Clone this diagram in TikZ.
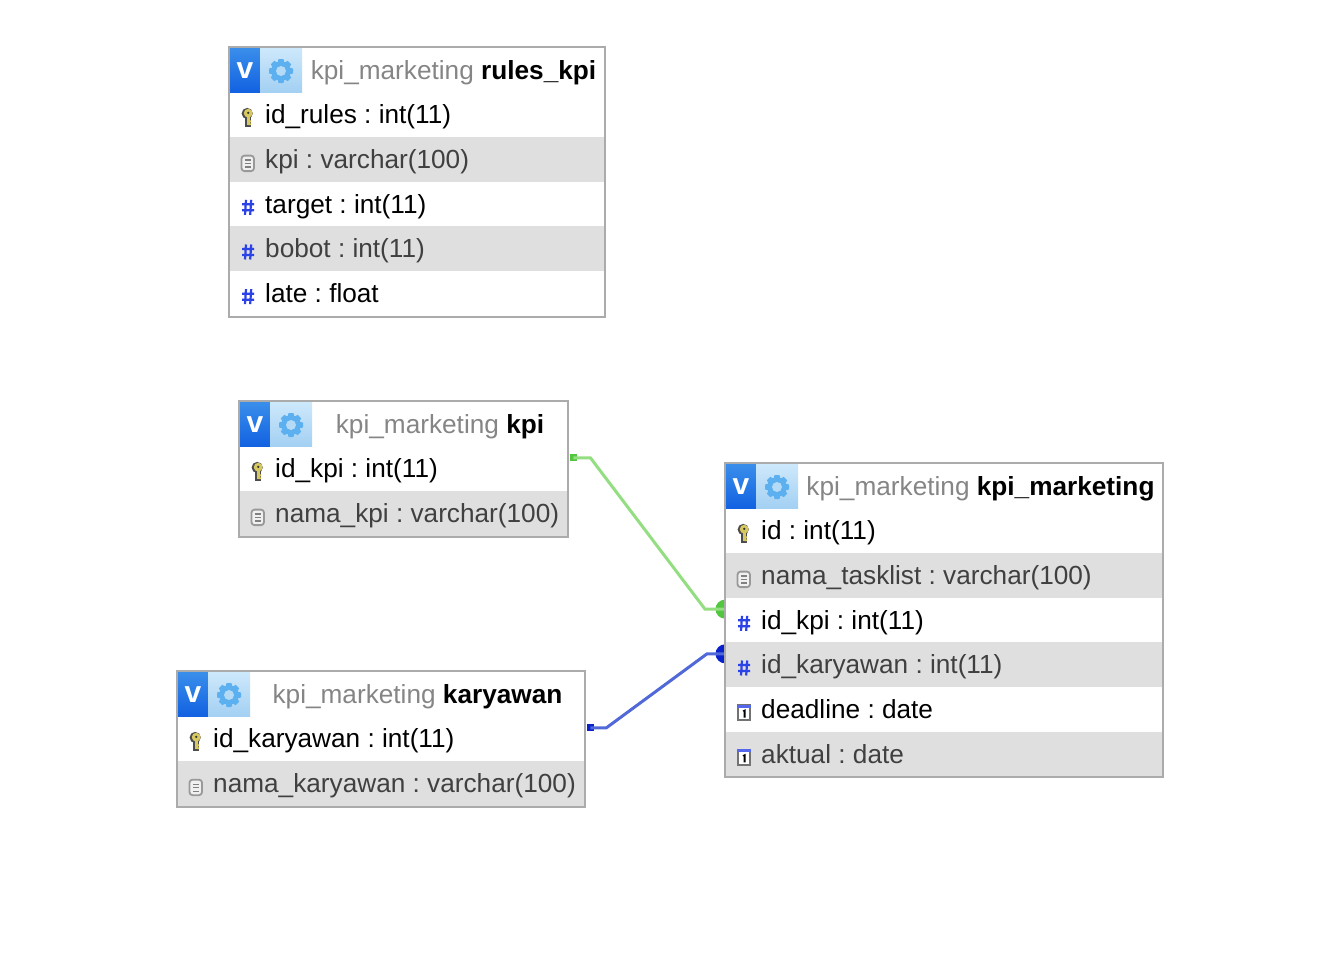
\documentclass[tikz,border=0pt]{standalone}
\usepackage{fontspec}
\setmainfont{Liberation Sans}
\usetikzlibrary{backgrounds}
\definecolor{rowgrey}{HTML}{DFDFDF}
\definecolor{framegrey}{HTML}{ABABAB}
\definecolor{schemagrey}{HTML}{858585}
\definecolor{hashblue}{HTML}{2A42E8}
\definecolor{linegreen}{HTML}{93DE80}
\definecolor{tipgreen}{HTML}{52C63E}
\definecolor{lineblue}{HTML}{5068D8}
\definecolor{tipblue}{HTML}{0A22CC}
\definecolor{gearblue}{HTML}{5CB0F0}
\definecolor{geartop}{HTML}{CDE8FB}
\definecolor{gearbot}{HTML}{A3D0F3}
\definecolor{vtop}{HTML}{3A8EEA}
\definecolor{vbot}{HTML}{1262E2}
\definecolor{keygold}{HTML}{D8C860}
\tikzset{
  rowcell/.style={rectangle, inner sep=0pt, minimum height=44.67pt, anchor=north west, fill=white},
  rowtext/.style={anchor=west, inner sep=0pt, text height=19pt, text depth=6pt, font=\fontsize{26.2}{30}\selectfont},
  headtext/.style={rowtext, anchor=center},
  tabframe/.style={draw=framegrey, line width=2pt},
  tipsq/.style={rectangle, inner sep=0pt, minimum size=7pt},
  tipdot/.style={circle, inner sep=0pt, minimum size=19pt},
  vtile/.style={rectangle, inner sep=0pt, anchor=north west, minimum width=30pt, minimum height=44pt, top color=vtop, bottom color=vbot},
  geartile/.style={rectangle, inner sep=0pt, anchor=north west, minimum width=42pt, minimum height=44pt, top color=geartop, bottom color=gearbot},
  dbkey/.pic={
    \fill[black!70] (-.8,-5) circle (5.6);
    \fill[black!70] (-2.8,-2) rectangle (2.6,9);
    \fill[keygold] (.2,-5.3) circle (4.4);
    \fill[keygold] (-1,-2) rectangle (1.6,7);
    \fill[keygold] (1,2) rectangle (3.2,3.8) (1,5) rectangle (3.2,6.6);
    \fill[black!80] (.2,-5.6) circle (1.3);
  },
  dbtext/.pic={
    \draw[black!40, fill=black!6, line width=1.8pt, rounded corners=3pt] (-6.5,-7.5) rectangle (6,8);
    \foreach \l in {-3,.5,4}{
      \draw[black!50, line width=1.3pt] (-3.2,\l) -- (3,\l);
    }
  },
  dbhash/.pic={
    \draw[hashblue, line width=2.2pt] (-2,-8) -- (-3,7) (3.2,-8) -- (2.2,7) (-6,-3.5) -- (6,-3.5) (-6,2.5) -- (6,2.5);
  },
  dbdate/.pic={
    \draw[black!55, fill=white, line width=1.5pt] (-6,-8) rectangle (6,7);
    \fill[hashblue!80] (-6.5,-8.5) rectangle (6.5,-5.5);
    \fill[black] (-1.5,-2.5) -- (1.5,-4) -- (1.5,4.5) -- (-.5,4.5) -- (-.5,-1.5) -- cycle;
  },
}
% #1 name, #2 x, #3 y, #4 width, #5 table, #6 rows
\newcommand{\dbtable}[6]{
  \foreach \n/\ic/\txt in {#6}{
    \ifodd\n \def\rowfill{white}\def\rowink{black}\else \def\rowfill{rowgrey}\def\rowink{black!75}\fi
    \node[rowcell, fill=\rowfill, minimum width=#4pt] (#1-\n) at (#2,#3+.6+44.67*\n) {};
    \pic at (#2+19,#3+23.3+44.67*\n+3.5) {\ic};
    \node[rowtext, text=\rowink] (#1-\n-t) at (#2+36,#3+25.6+44.67*\n) {\txt};
  }
  \node[vtile] (#1-v) at (#2+1,#3+1) {};
  \node[font=\fontsize{30}{30}\selectfont\bfseries, text=white, inner sep=0pt] (#1-vt) at (#2+16,#3+24) {v};
  \node[geartile] (#1-g) at (#2+31,#3+1) {};
  \foreach \a in {0,45,...,315}{
    \fill[gearblue, shift={(#2+52,#3+24)}, rotate=\a] (-3.6,-8) -- (-2.4,-12) -- (2.4,-12) -- (3.6,-8) -- cycle;
  }
  \fill[gearblue] (#2+52,#3+24) circle (9.5);
  \fill[gearbot!80!white] (#2+52,#3+24) circle (5);
  \node[headtext] (#1-title) at (#2+36.5+#4/2,#3+26) {\textcolor{schemagrey}{kpi\_marketing} \textbf{#5}};
}
\begin{document}
\frenchspacing
\begin{tikzpicture}[x=1pt, y=-1pt]
  \useasboundingbox (0,0) rectangle (1328,964);

  \dbtable{rules}{229}{47}{376}{rules\_kpi}{1/dbkey/id\_rules : int(11), 2/dbtext/kpi : varchar(100), 3/dbhash/target : int(11), 4/dbhash/bobot : int(11), 5/dbhash/late : float}
  \draw[tabframe] (229,47) rectangle ++(376,270);

  \dbtable{kpi}{239}{401}{329}{kpi}{1/dbkey/id\_kpi : int(11), 2/dbtext/nama\_kpi : varchar(100)}
  \draw[tabframe] (239,401) rectangle ++(329,136);

  \dbtable{mkt}{725}{463}{438}{kpi\_marketing}{1/dbkey/id : int(11), 2/dbtext/nama\_tasklist : varchar(100), 3/dbhash/id\_kpi : int(11), 4/dbhash/id\_karyawan : int(11), 5/dbdate/deadline : date, 6/dbdate/aktual : date}
  \draw[tabframe] (725,463) rectangle ++(438,314);

  \dbtable{kar}{177}{671}{408}{karyawan}{1/dbkey/id\_karyawan : int(11), 2/dbtext/nama\_karyawan : varchar(100)}
  \draw[tabframe] (177,671) rectangle ++(408,136);

  \begin{scope}[on background layer]
    \node[tipsq, fill=tipgreen] (kpisrc) at ([shift={(5,-11)}]kpi-1.east) {};
    \node[tipdot, fill=tipgreen] (kpidst) at ([yshift=11pt]mkt-3.west) {};
    \draw[linegreen, line width=3pt] (kpisrc.center) -- ++(17,0) -- ([xshift=-20pt]kpidst.center) -- (kpidst.center);
    \node[tipsq, fill=tipblue] (karsrc) at ([shift={(5,-11)}]kar-1.east) {};
    \node[tipdot, fill=tipblue] (kardst) at ([yshift=11pt]mkt-4.west) {};
    \draw[lineblue, line width=3pt] (karsrc.center) -- ++(16,0) -- ([xshift=-18pt]kardst.center) -- (kardst.center);
  \end{scope}
\end{tikzpicture}
\end{document}
